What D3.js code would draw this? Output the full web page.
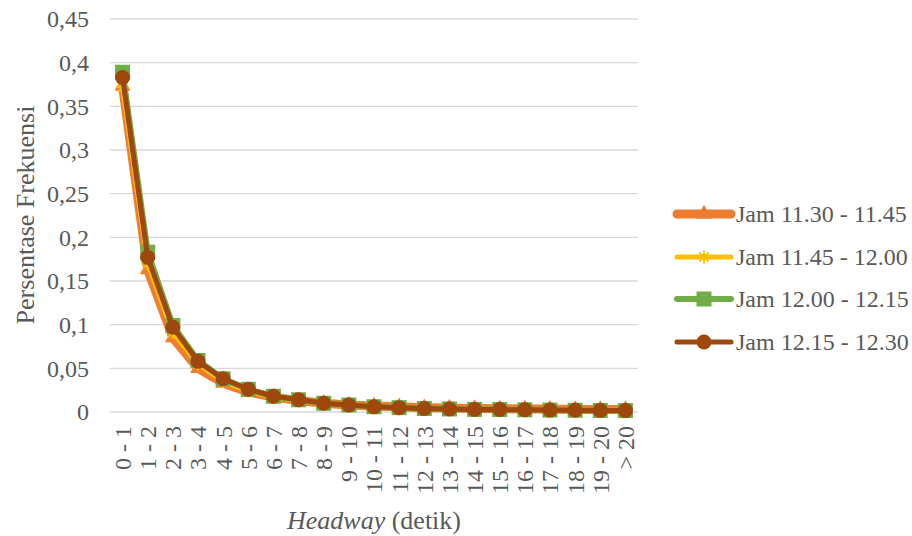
<!DOCTYPE html>
<html>
<head>
<meta charset="utf-8">
<script src="https://cdn.jsdelivr.net/npm/d3@7"></script>
<style>
  html, body { margin: 0; padding: 0; background: #fff; }
  svg { display: block; font-family: "Liberation Serif", "Times New Roman", serif; }
</style>
</head>
<body>
<svg id="chart" width="912" height="536"></svg>
<script>
const categories = ["0 - 1","1 - 2","2 - 3","3 - 4","4 - 5","5 - 6","6 - 7","7 - 8","8 - 9","9 - 10",
  "10 - 11","11 - 12","12 - 13","13 - 14","14 - 15","15 - 16","16 - 17","17 - 18","18 - 19","19 - 20","> 20"];
const seriesNames = ["Jam 11.30 - 11.45","Jam 11.45 - 12.00","Jam 12.00 - 12.15","Jam 12.15 - 12.30"];
const s1130 = [0.373,0.163,0.085,0.050,0.033,0.023,0.017,0.013,0.010,0.008,0.007,0.006,0.005,0.0045,0.004,0.0038,0.0035,0.0033,0.003,0.003,0.0028];
const s1145 = [0.372,0.170,0.091,0.055,0.035,0.024,0.017,0.013,0.010,0.008,0.006,0.005,0.004,0.0035,0.003,0.003,0.0028,0.0025,0.0023,0.0022,0.002];
const s1200 = [0.389,0.183,0.099,0.059,0.038,0.026,0.018,0.014,0.010,0.008,0.006,0.005,0.004,0.0035,0.003,0.0028,0.0025,0.0022,0.002,0.0018,0.0016];
const s1215 = [0.383,0.177,0.097,0.058,0.038,0.026,0.018,0.014,0.010,0.008,0.006,0.005,0.004,0.0035,0.003,0.0028,0.0025,0.0022,0.002,0.0018,0.0016];
const yTicks = [0,0.05,0.1,0.15,0.2,0.25,0.3,0.35,0.4,0.45];
const yTickLabels = ["0","0,05","0,1","0,15","0,2","0,25","0,3","0,35","0,4","0,45"];
const colors = ["#ED7D31","#FFC000","#70AD47","#9E480E"];
const widths = [9,5,6,5];
const markers = ["triangle","star","square","circle"];

const data = [s1130, s1145, s1200, s1215];

const svg = d3.select("#chart");
const plotLeft = 110, plotRight = 638, plotTop = 19, plotBottom = 412;
const textColor = "#595959";

const x = d3.scalePoint().domain(categories).range([plotLeft, plotRight]).padding(0.5);
const y = d3.scaleLinear().domain([0, 0.45]).range([plotBottom, plotTop]);

// gridlines
svg.append("g").selectAll("line").data(yTicks).join("line")
  .attr("x1", plotLeft).attr("x2", plotRight)
  .attr("y1", d => y(d)).attr("y2", d => y(d))
  .attr("stroke", "#d9d9d9").attr("stroke-width", 1.3);

// y tick labels
svg.append("g").selectAll("text").data(yTicks).join("text")
  .attr("x", 89).attr("y", d => y(d))
  .attr("dy", "0.35em")
  .attr("text-anchor", "end")
  .attr("font-size", 24).attr("fill", textColor)
  .text((d, i) => yTickLabels[i]);

// x tick labels
svg.append("g").selectAll("text").data(categories).join("text")
  .attr("transform", d => `translate(${x(d)},426) rotate(-90)`)
  .attr("dy", "0.35em")
  .attr("text-anchor", "end")
  .attr("font-size", 24).attr("fill", textColor)
  .text(d => d);

// axis titles
svg.append("text")
  .attr("transform", "translate(25,215) rotate(-90)")
  .attr("dy", "0.35em")
  .attr("text-anchor", "middle")
  .attr("font-size", 26).attr("fill", textColor)
  .text("Persentase Frekuensi");

const xt = svg.append("text")
  .attr("x", (plotLeft + plotRight) / 2).attr("y", 520)
  .attr("dy", "0.35em")
  .attr("text-anchor", "middle")
  .attr("font-size", 26).attr("fill", textColor);
xt.append("tspan").attr("font-style", "italic").text("Headway");
xt.append("tspan").text(" (detik)");

function drawMarker(g, type, cx, cy, color) {
  if (type === "circle") {
    g.append("circle").attr("cx", cx).attr("cy", cy).attr("r", 7.5).attr("fill", color);
  } else if (type === "square") {
    g.append("rect").attr("x", cx - 7.5).attr("y", cy - 7.5).attr("width", 15).attr("height", 15).attr("fill", color);
  } else if (type === "triangle") {
    g.append("path").attr("d", d3.symbol().type(d3.symbolTriangle).size(110)()).attr("transform", `translate(${cx},${cy})`).attr("fill", color);
  } else if (type === "star") {
    const r = 6.5;
    let p = "";
    for (let k = 0; k < 4; k++) {
      const a = k * Math.PI / 4;
      p += `M${cx - r*Math.cos(a)},${cy - r*Math.sin(a)}L${cx + r*Math.cos(a)},${cy + r*Math.sin(a)}`;
    }
    g.append("path").attr("d", p).attr("stroke", color).attr("stroke-width", 2).attr("fill", "none");
  }
}

const line = d3.line().x((d, i) => x(categories[i])).y(d => y(d));

data.forEach((vals, si) => {
  const g = svg.append("g");
  g.append("path").datum(vals).attr("d", line)
    .attr("fill", "none").attr("stroke", colors[si]).attr("stroke-width", widths[si])
    .attr("stroke-linejoin", "round").attr("stroke-linecap", "round");
  vals.forEach((v, i) => drawMarker(g, markers[si], x(categories[i]), y(v), colors[si]));
});

// legend
const legendY = [214, 257, 299, 342];
seriesNames.forEach((name, si) => {
  const g = svg.append("g");
  const ly = legendY[si];
  g.append("line").attr("x1", 677).attr("x2", 731).attr("y1", ly).attr("y2", ly)
    .attr("stroke", colors[si]).attr("stroke-width", widths[si]).attr("stroke-linecap", "round");
  drawMarker(g, markers[si], 704, ly, colors[si]);
  g.append("text").attr("x", 736).attr("y", ly).attr("dy", "0.35em")
    .attr("font-size", 24).attr("fill", textColor).text(name);
});
</script>
</body>
</html>
